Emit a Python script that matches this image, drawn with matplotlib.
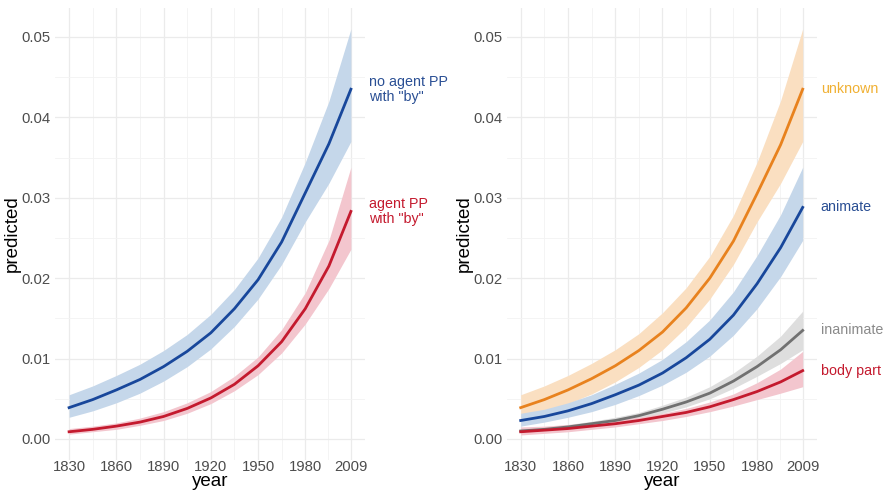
import numpy as np
import matplotlib.pyplot as plt
from matplotlib.ticker import MultipleLocator, FixedLocator

plt.rcParams['font.family'] = ['Liberation Sans', 'DejaVu Sans']

years = [1830, 1845, 1860, 1875, 1890, 1905, 1920, 1935, 1950, 1965, 1980, 1995, 2009]
xticks = [1830, 1860, 1890, 1920, 1950, 1980, 2009]

# left panel: agent PP with "by" vs none
noagent_fit = [.0039, .0049, .0061, .0074, .0090, .0109, .0132, .0162, .0198, .0245, .0306, .0367, .0435]
noagent_lo = [.0027, .0035, .0045, .0057, .0072, .0090, .0112, .0140, .0174, .0217, .0270, .0318, .0370]
noagent_hi = [.0055, .0066, .0079, .0093, .0110, .0130, .0155, .0186, .0225, .0276, .0344, .0420, .0510]
agent_fit = [.0009, .0012, .0016, .0021, .0028, .0038, .0051, .0068, .0091, .0121, .0162, .0215, .0283]
agent_lo = [.0006, .0009, .0012, .0017, .0023, .0032, .0044, .0060, .0080, .0107, .0143, .0187, .0236]
agent_hi = [.0013, .0016, .0020, .0026, .0034, .0045, .0059, .0078, .0102, .0136, .0182, .0247, .0338]

# right panel: by animacy
unknown_fit = [.0039, .0049, .0061, .0075, .0091, .0110, .0133, .0163, .0200, .0246, .0305, .0366, .0435]
unknown_lo = [.0026, .0034, .0044, .0056, .0071, .0089, .0111, .0139, .0174, .0217, .0270, .0318, .0370]
unknown_hi = [.0055, .0066, .0079, .0094, .0111, .0131, .0157, .0188, .0227, .0278, .0344, .0421, .0510]
animate_fit = [.0023, .0028, .0035, .0044, .0055, .0067, .0082, .0101, .0124, .0154, .0193, .0238, .0288]
animate_lo = [.0016, .0021, .0027, .0034, .0043, .0054, .0067, .0083, .0103, .0129, .0162, .0202, .0247]
animate_hi = [.0032, .0037, .0045, .0055, .0068, .0082, .0099, .0121, .0148, .0183, .0228, .0279, .0338]
inanimate_fit = [.0010, .0012, .0015, .0019, .0023, .0029, .0037, .0046, .0057, .0072, .0090, .0111, .0135]
inanimate_lo = [.0007, .0009, .0012, .0015, .0019, .0025, .0032, .0040, .0050, .0063, .0078, .0094, .0111]
inanimate_hi = [.0013, .0015, .0018, .0022, .0027, .0033, .0042, .0052, .0065, .0082, .0103, .0128, .0159]
body_fit = [.0009, .0011, .0013, .0016, .0019, .0023, .0028, .0033, .0040, .0049, .0059, .0071, .0085]
body_lo = [.0005, .0007, .0009, .0012, .0015, .0019, .0023, .0028, .0034, .0041, .0049, .0057, .0065]
body_hi = [.0015, .0016, .0018, .0020, .0024, .0027, .0032, .0038, .0046, .0056, .0070, .0087, .0109]

BLUE, BLUE_F = '#18479b', '#c5d7ea'
RED, RED_F = '#c41a2e', '#f3c6ce'
ORANGE, ORANGE_F = '#e8821e', '#fadfc1'
GREY, GREY_F = '#717171', '#dedede'

W, H = 889, 490
fig = plt.figure(figsize=(W / 100, H / 100), dpi=100)
ax1 = fig.add_axes([55 / W, 1 - 459.5 / H, 310 / W, 451.5 / H])
ax2 = fig.add_axes([506.6 / W, 1 - 459.5 / H, 310.2 / W, 451.5 / H])


def style(ax):
    ax.set_xlim(1821.05, 2017.95)
    ax.set_ylim(-0.00255, 0.0536)
    ax.xaxis.set_major_locator(FixedLocator(xticks))
    ax.xaxis.set_minor_locator(FixedLocator([1845, 1875, 1905, 1935, 1965, 1994.5]))
    ax.yaxis.set_major_locator(MultipleLocator(0.01))
    ax.yaxis.set_minor_locator(MultipleLocator(0.005))
    ax.yaxis.set_major_formatter(plt.FuncFormatter(lambda v, p: f'{v:.2f}'))
    ax.grid(which='major', color='#ebebeb', lw=0.9)
    ax.grid(which='minor', color='#f3f3f3', lw=0.6)
    ax.set_axisbelow(True)
    for s in ax.spines.values():
        s.set_visible(False)
    ax.tick_params(which='both', length=0, labelsize=10.7, labelcolor='#4d4d4d')
    ax.tick_params(axis='x', pad=0.5)
    ax.tick_params(axis='y', pad=3)
    ax.set_xlabel('year', fontsize=13.5, labelpad=-0.8)
    ax.set_ylabel('predicted', fontsize=13.5, labelpad=0.5)


def series(ax, fit, lo, hi, col, fill, label, lcol=None):
    ax.fill_between(years, lo, hi, color=fill, lw=0)
    ax.plot(years, fit, color=col, lw=2)
    ax.annotate(label, xy=(years[-1], fit[-1]), xytext=(13, 0), textcoords='offset points',
                va='center', ha='left', fontsize=10.3, color=lcol or col,
                annotation_clip=False, linespacing=1.1)


style(ax1)
series(ax1, noagent_fit, noagent_lo, noagent_hi, BLUE, BLUE_F, 'no agent PP\nwith "by"', '#2a4f94')
series(ax1, agent_fit, agent_lo, agent_hi, RED, RED_F, 'agent PP\nwith "by"')

style(ax2)
series(ax2, unknown_fit, unknown_lo, unknown_hi, ORANGE, ORANGE_F, 'unknown', '#f0b032')
series(ax2, animate_fit, animate_lo, animate_hi, BLUE, BLUE_F, 'animate', '#2a4f94')
series(ax2, inanimate_fit, inanimate_lo, inanimate_hi, GREY, GREY_F, 'inanimate', '#8a8a8a')
series(ax2, body_fit, body_lo, body_hi, RED, RED_F, 'body part')

fig.savefig('out.png', dpi=100)
